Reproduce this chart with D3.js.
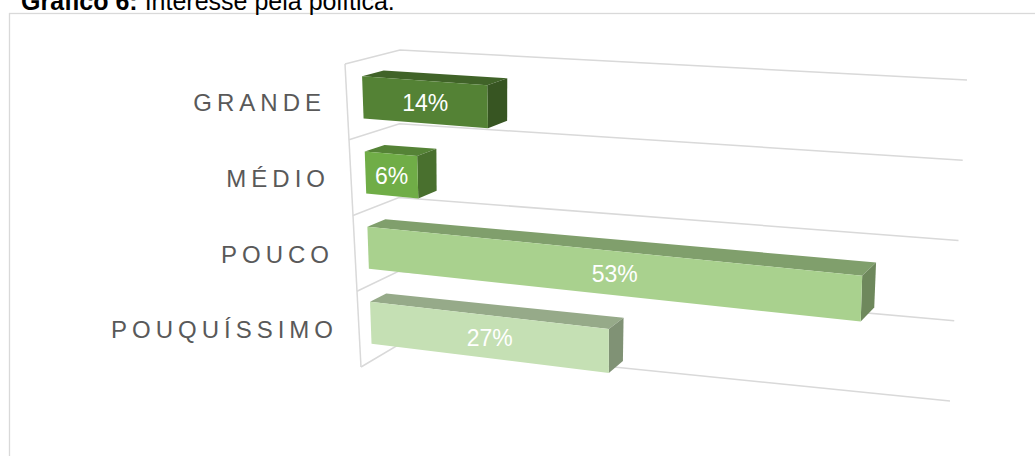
<!DOCTYPE html>
<html>
<head>
<meta charset="utf-8">
<script src="https://cdn.jsdelivr.net/npm/d3@7"></script>
<style>
  body { margin: 0; background: #fff; }
  text { font-family: "Liberation Sans", Arial, sans-serif; }
</style>
</head>
<body>
<div id="chart"></div>
<script>
// data
var categories = ["GRANDE", "MÉDIO", "POUCO", "POUQUÍSSIMO"];
var values = [14, 6, 53, 27];
var valueLabels = ["14%", "6%", "53%", "27%"];
var barColors = ["#548235", "#70ad47", "#a9d18e", "#c5e0b4"];
var valueMax = 60;

var width = 1035, height = 456;

var svg = d3.select("#chart").append("svg")
    .attr("width", width)
    .attr("height", height);

// outer frame of the chart object
svg.append("rect")
    .attr("x", 9.5).attr("y", 13.5)
    .attr("width", 1040).attr("height", 460)
    .attr("fill", "none")
    .attr("stroke", "#d9d9d9")
    .attr("stroke-width", 1.3);

// title (partly cut by the top of the page, as in the source)
var title = svg.append("text").attr("x", 21).attr("y", 10)
    .attr("font-size", 25).attr("fill", "#000");
title.append("tspan").attr("font-weight", "bold").text("Gráfico 6:");
title.append("tspan").text(" Interesse pela política.");

// screen corners of the 3D plot box (front plane z=0, back plane z=1)
var box = {
    front: { tl: [345, 64], bl: [361, 367], tr: [931, 107], br: [919, 443] },
    back:  { tl: [400, 50], bl: [398, 345], tr: [967, 80], br: [950, 401] }
};

var x = d3.scaleLinear().domain([0, valueMax]).range([0, 1]);
var y = d3.scaleBand().domain(categories).range([0, 1])
    .paddingInner(0.44).paddingOuter(0.22);
var barDepth = [0.30, 0.70];

// the right side is a bit closer to the eye
var persp = 0.094;
function depthU(t) { return t * (1 - persp) / (1 - persp * t); }

function lerp(a, b, t) { return [a[0] + (b[0] - a[0]) * t, a[1] + (b[1] - a[1]) * t]; }
function plane(p, u, v) {
    var left = lerp(p.tl, p.bl, v), right = lerp(p.tr, p.br, v);
    return lerp(left, right, u);
}
// u, v, z all in [0,1]
function project(u, v, z) {
    return lerp(plane(box.front, u, v), plane(box.back, u, v), z);
}

var line = d3.line();

// walls: side wall front edge and the category gridlines
var grid = svg.append("g")
    .attr("fill", "none")
    .attr("stroke", "#d9d9d9")
    .attr("stroke-width", 1.5);

grid.append("path").attr("d", line([project(0, 0, 0), project(0, 1, 0)]));

grid.selectAll(".gl").data(d3.range(categories.length + 1)).enter()
    .append("path").attr("class", "gl")
    .attr("d", function (i) {
        var v = i * y.step();
        return line([project(0, v, 0), project(0, v, 1), project(1, v, 1)]);
    });

// bars
function shade(c, k) {
    var col = d3.rgb(c);
    return d3.rgb(col.r * k, col.g * k, col.b * k).toString();
}

var bars = svg.selectAll(".bar").data(categories).enter()
    .append("g").attr("class", "bar");

bars.each(function (cat, i) {
    var g = d3.select(this);
    var u1 = depthU(x(values[i]));
    var v0 = y(cat), v1 = y(cat) + y.bandwidth();
    var z0 = barDepth[0], z1 = barDepth[1];
    var top = [project(0, v0, z0), project(u1, v0, z0), project(u1, v0, z1), project(0, v0, z1)];
    var side = [project(u1, v0, z0), project(u1, v0, z1), project(u1, v1, z1), project(u1, v1, z0)];
    var front = [project(0, v0, z0), project(u1, v0, z0), project(u1, v1, z0), project(0, v1, z0)];

    g.append("path").attr("d", line(top) + "Z").attr("fill", shade(barColors[i], 0.76));
    g.append("path").attr("d", line(side) + "Z").attr("fill", shade(barColors[i], 0.65));
    g.append("path").attr("d", line(front) + "Z").attr("fill", barColors[i]);

    var cx = d3.mean(front, function (p) { return p[0]; });
    var cy = d3.mean(front, function (p) { return p[1]; });
    g.append("text")
        .attr("x", cx).attr("y", cy + 3)
        .attr("text-anchor", "middle")
        .attr("dominant-baseline", "middle")
        .attr("font-size", 23)
        .attr("fill", "#fff")
        .text(valueLabels[i]);
});

// category labels
var letterSpacing = 5;
svg.selectAll(".cat").data(categories).enter()
    .append("text").attr("class", "cat")
    .attr("x", function (d) { return project(0, y(d) + y.bandwidth() / 2, 0)[0] - 26 + letterSpacing; })
    .attr("y", function (d) { return project(0, y(d) + y.bandwidth() / 2, 0)[1] + 3; })
    .attr("text-anchor", "end")
    .attr("dominant-baseline", "middle")
    .attr("font-size", 24)
    .attr("letter-spacing", letterSpacing)
    .attr("fill", "#595959")
    .text(function (d) { return d; });
</script>
</body>
</html>
